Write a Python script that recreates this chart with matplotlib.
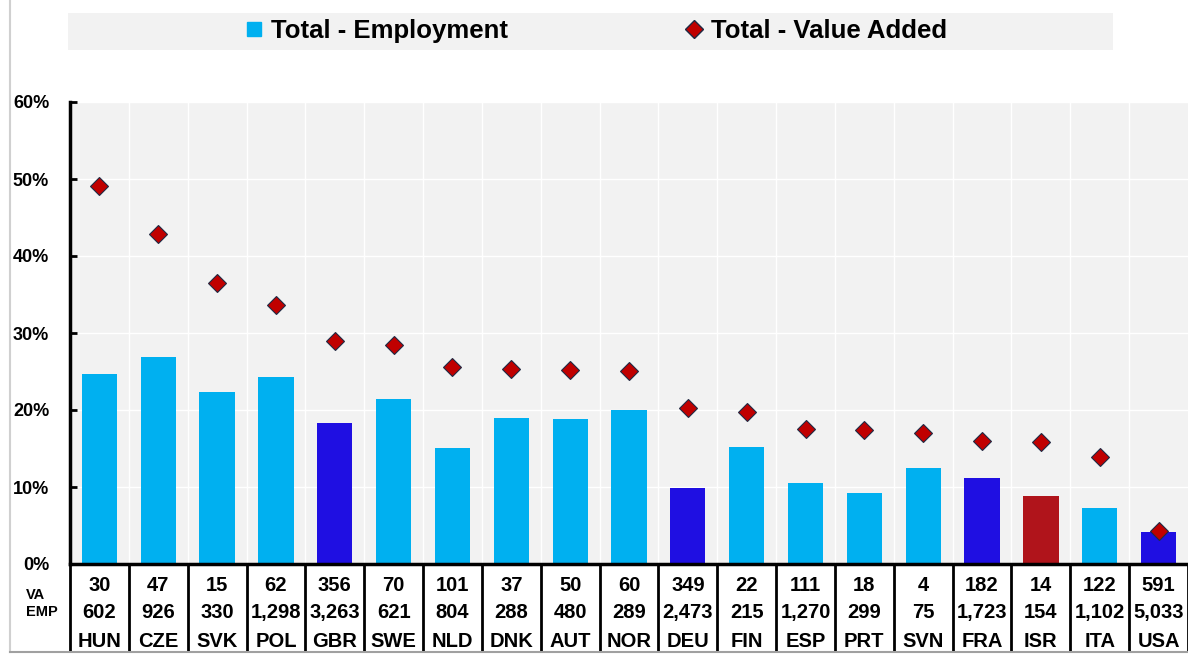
import matplotlib.pyplot as plt
from matplotlib.lines import Line2D
from matplotlib.patches import Rectangle
import matplotlib.transforms as mtransforms

plt.rcParams['font.family'] = ['Liberation Sans', 'DejaVu Sans']
plt.rcParams['font.weight'] = 'bold'

countries = ["HUN", "CZE", "SVK", "POL", "GBR", "SWE", "NLD", "DNK", "AUT", "NOR",
             "DEU", "FIN", "ESP", "PRT", "SVN", "FRA", "ISR", "ITA", "USA"]
employment = [24.7, 26.9, 22.4, 24.3, 18.3, 21.4, 15.1, 18.9, 18.8, 20.0,
              9.9, 15.2, 10.5, 9.2, 12.5, 11.2, 8.8, 7.3, 4.2]
value_added = [49.1, 42.9, 36.5, 33.7, 29.0, 28.4, 25.6, 25.3, 25.2, 25.1,
               20.3, 19.7, 17.5, 17.4, 17.0, 16.0, 15.8, 13.9, 4.3]
va_counts = ["30", "47", "15", "62", "356", "70", "101", "37", "50", "60",
             "349", "22", "111", "18", "4", "182", "14", "122", "591"]
emp_counts = ["602", "926", "330", "1,298", "3,263", "621", "804", "288", "480", "289",
              "2,473", "215", "1,270", "299", "75", "1,723", "154", "1,102", "5,033"]

# highlighted economies get their own bar colour
LIGHT = "#00b0f0"
highlight = {"GBR": "#1f0fe2", "DEU": "#1f0fe2", "FRA": "#1f0fe2",
             "USA": "#1f0fe2", "ISR": "#b0141b"}
bar_colors = [highlight.get(c, LIGHT) for c in countries]

fig = plt.figure(figsize=(11.88, 6.55), dpi=100)
W, H = 1188, 655
ax = fig.add_axes([70 / W, 1 - 564 / H, (1188 - 70) / W, (564 - 102) / H])
ax.set_facecolor("#f2f2f2")

x = list(range(len(countries)))
ax.bar(x, employment, width=0.6, color=bar_colors, zorder=2)
ax.plot(x, value_added, linestyle="none", marker="D", markersize=9,
        markerfacecolor="#c00000", markeredgecolor="#1f2a44",
        markeredgewidth=0.8, zorder=3)

ax.set_xlim(-0.5, len(countries) - 0.5)
ax.set_ylim(0, 60)
ax.set_yticks(range(0, 61, 10))
ax.set_yticklabels([f"{v}%" for v in range(0, 61, 10)], fontsize=13,
                   fontweight="bold")
ax.set_xticks([])

# white grid at category boundaries and every 10%
for v in range(10, 61, 10):
    ax.axhline(v, color="white", linewidth=1, zorder=1)
for i in range(1, len(countries)):
    ax.axvline(i - 0.5, color="white", linewidth=1, zorder=1)

for side in ["top", "right"]:
    ax.spines[side].set_visible(False)
ax.spines["left"].set_linewidth(2.5)
ax.spines["bottom"].set_linewidth(2.5)
ax.tick_params(axis="y", direction="in", length=5, width=2, pad=15)

# data table below the axis
trans = mtransforms.blended_transform_factory(ax.transData, ax.transAxes)
for i, c in enumerate(countries):
    ax.text(i, -0.046, va_counts[i], transform=trans, ha="center", va="center",
            fontsize=14.5, fontweight="bold")
    ax.text(i, -0.104, emp_counts[i], transform=trans, ha="center", va="center",
            fontsize=14.5, fontweight="bold")
    ax.text(i, -0.168, c, transform=trans, ha="center", va="center",
            fontsize=14.5, fontweight="bold")
for i in range(len(countries) + 1):
    ax.plot([i - 0.5, i - 0.5], [0, -0.186], transform=trans, color="black",
            linewidth=2, clip_on=False)

ax.text(-0.039, -0.067, "VA", transform=ax.transAxes, ha="left", va="center",
        fontsize=10.5, fontweight="bold")
ax.text(-0.039, -0.104, "EMP", transform=ax.transAxes, ha="left", va="center",
        fontsize=10.5, fontweight="bold")

# legend with grey band
fig.add_artist(Rectangle((68 / W, 1 - 50 / H), (1113 - 68) / W, 37 / H,
                         transform=fig.transFigure, facecolor="#f2f2f2",
                         edgecolor="none", zorder=0))
handles = [Line2D([], [], linestyle="none", marker="s", markersize=10,
                  color=LIGHT),
           Line2D([], [], linestyle="none", marker="D", markersize=9,
                  markerfacecolor="#c00000", markeredgecolor="#1f2a44")]
fig.legend(handles, ["Total - Employment", "Total - Value Added"],
           loc="center", bbox_to_anchor=(596 / W, 1 - 31 / H), ncol=2,
           frameon=False, prop={"weight": "bold", "size": 18.5},
           handlelength=0.7, handletextpad=0.3, columnspacing=6.9)

# chart frame
fig.add_artist(Line2D([10 / W, 10 / W], [1 - 652 / H, 1], transform=fig.transFigure,
                      color="#d0d0d0", linewidth=1.5))
fig.add_artist(Line2D([10 / W, 1], [1 - 652 / H, 1 - 652 / H],
                      transform=fig.transFigure, color="#a0a0a0", linewidth=1.5))

fig.savefig("out.png", dpi=100)
